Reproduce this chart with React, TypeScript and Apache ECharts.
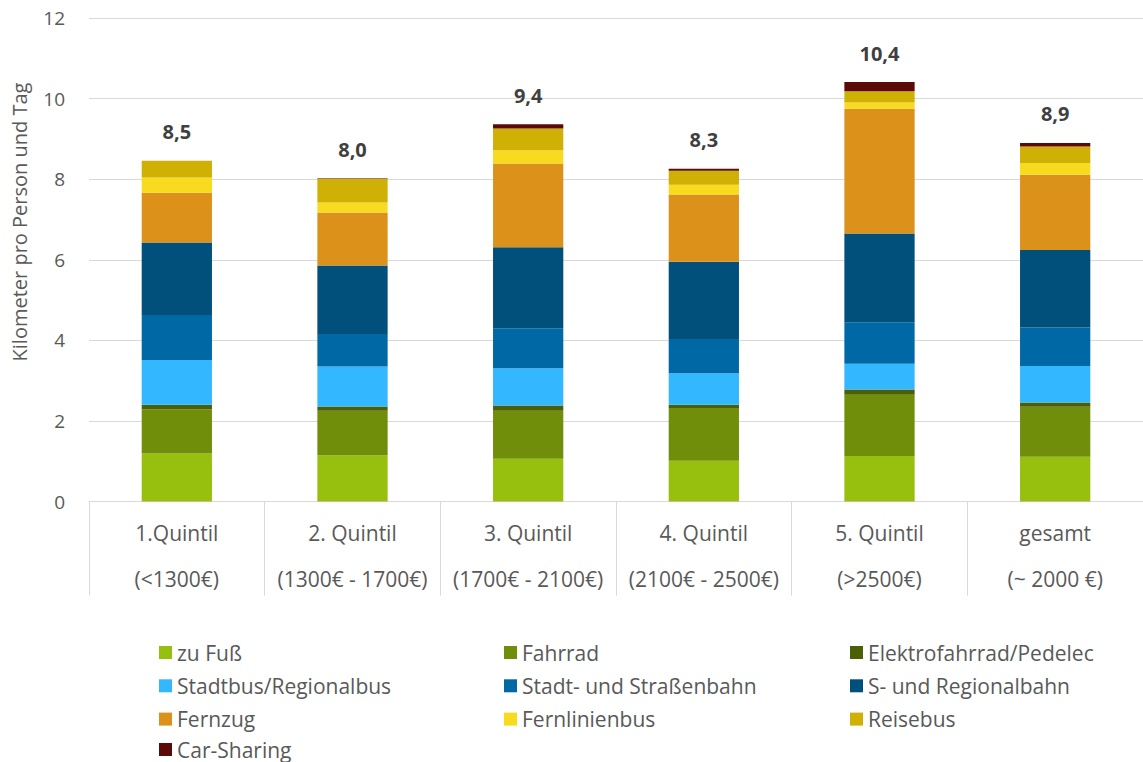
import React, { useEffect, useRef } from "react";
import * as echarts from "echarts";

// Income groups (two-line category labels)
const categories = [
  "1.Quintil\n(<1300€)",
  "2. Quintil\n(1300€ - 1700€)",
  "3. Quintil\n(1700€ - 2100€)",
  "4. Quintil\n(2100€ - 2500€)",
  "5. Quintil\n(>2500€)",
  "gesamt\n(~ 2000 €)",
];

// Kilometres per person and day, by mode of transport
const zuFuss = [1.19, 1.15, 1.06, 1.01, 1.13, 1.11];
const fahrrad = [1.1, 1.1, 1.19, 1.31, 1.52, 1.24];
const pedelec = [0.11, 0.11, 0.13, 0.08, 0.13, 0.11];
const stadtbus = [1.11, 0.99, 0.93, 0.78, 0.64, 0.9];
const strassenbahn = [1.12, 0.81, 0.99, 0.85, 1.03, 0.96];
const regionalbahn = [1.8, 1.7, 2.01, 1.92, 2.2, 1.92];
const fernzug = [1.23, 1.31, 2.08, 1.67, 3.1, 1.87];
const fernlinienbus = [0.38, 0.25, 0.33, 0.24, 0.15, 0.29];
const reisebus = [0.42, 0.59, 0.54, 0.35, 0.28, 0.41];
const carSharing = [0.0, 0.01, 0.1, 0.05, 0.23, 0.09];

const yAxisTitle = "Kilometer pro Person und Tag";

const seriesDefs = [
  { name: "zu Fuß", data: zuFuss, color: "#97BF0D" },
  { name: "Fahrrad", data: fahrrad, color: "#718E0B" },
  { name: "Elektrofahrrad/Pedelec", data: pedelec, color: "#4B5F06" },
  { name: "Stadtbus/Regionalbus", data: stadtbus, color: "#33B7FF" },
  { name: "Stadt- und Straßenbahn", data: strassenbahn, color: "#0069A5" },
  { name: "S- und Regionalbahn", data: regionalbahn, color: "#00507B" },
  { name: "Fernzug", data: fernzug, color: "#DC911B" },
  { name: "Fernlinienbus", data: fernlinienbus, color: "#F8DB1F" },
  { name: "Reisebus", data: reisebus, color: "#CFB005" },
  { name: "Car-Sharing", data: carSharing, color: "#5C0A08" },
];

// Legend blocks: three columns of three rows, plus one extra row under the first column
const legendBlocks = [
  { items: ["zu Fuß", "Stadtbus/Regionalbus", "Fernzug"], left: 159, top: 642 },
  { items: ["Fahrrad", "Stadt- und Straßenbahn", "Fernlinienbus"], left: 504, top: 642 },
  { items: ["Elektrofahrrad/Pedelec", "S- und Regionalbahn", "Reisebus"], left: 850, top: 642 },
  { items: ["Car-Sharing"], left: 159, top: 739 },
];

const FONT = "'Open Sans', 'Noto Sans', sans-serif";
const GREY = "#595959";
const GRID_GREY = "#D9D9D9";

export default function App() {
  const ref = useRef<HTMLDivElement>(null);

  useEffect(() => {
    if (!ref.current) return;
    const chart = echarts.init(ref.current, undefined, { renderer: "svg" });

    const totals = categories.map((_, i) =>
      Math.round(seriesDefs.reduce((s, d) => s + d.data[i], 0) * 10) / 10
    );

    const series = seriesDefs.map((d, idx) => {
      const isTop = idx === seriesDefs.length - 1;
      return {
        name: d.name,
        type: "bar",
        stack: "km",
        barWidth: "40%",
        data: d.data,
        itemStyle: { color: d.color },
        label: isTop
          ? {
              show: true,
              position: "top",
              distance: 19,
              formatter: (p: any) => totals[p.dataIndex].toFixed(1).replace(".", ","),
              fontFamily: FONT,
              fontSize: 20,
              fontWeight: "bold",
              color: "#404040",
            }
          : { show: false },
      };
    });

    chart.setOption({
      animation: false,
      textStyle: { fontFamily: FONT },
      grid: { left: 89, right: -7, top: 18, bottom: 260.5, containLabel: false },
      graphic: [
        {
          type: "text",
          x: 19,
          y: 222,
          rotation: Math.PI / 2,
          style: {
            text: yAxisTitle,
            fontFamily: FONT,
            fontSize: 20,
            fill: GREY,
            align: "center",
            verticalAlign: "middle",
          },
        },
      ],
      legend: legendBlocks.map((b) => ({
        data: b.items,
        orient: "vertical",
        left: b.left,
        top: b.top,
        padding: 0,
        itemWidth: 13,
        itemHeight: 13,
        itemGap: 12.3,
        selectedMode: false,
        icon: "rect",
        textStyle: { fontFamily: FONT, fontSize: 21, color: GREY, lineHeight: 20 },
      })),
      xAxis: {
        type: "category",
        data: categories,
        axisLine: { show: true, lineStyle: { color: GRID_GREY, width: 1 } },
        axisTick: { show: true, length: 94, lineStyle: { color: GRID_GREY, width: 1 } },
        axisLabel: {
          fontFamily: FONT,
          fontSize: 21,
          color: GREY,
          lineHeight: 46,
          margin: 8,
          interval: 0,
        },
      },
      yAxis: {
        type: "value",
        min: 0,
        max: 12,
        interval: 2,
        axisLine: { show: false },
        axisTick: { show: false },
        axisLabel: { fontFamily: FONT, fontSize: 19, color: GREY, margin: 24 },
        splitLine: { lineStyle: { color: GRID_GREY, width: 1 } },
      },
      series,
    });

    return () => chart.dispose();
  }, []);

  return (
    <div
      ref={ref}
      style={{ position: "absolute", left: 0, top: 0, width: 1143, height: 762, background: "#fff" }}
    />
  );
}
